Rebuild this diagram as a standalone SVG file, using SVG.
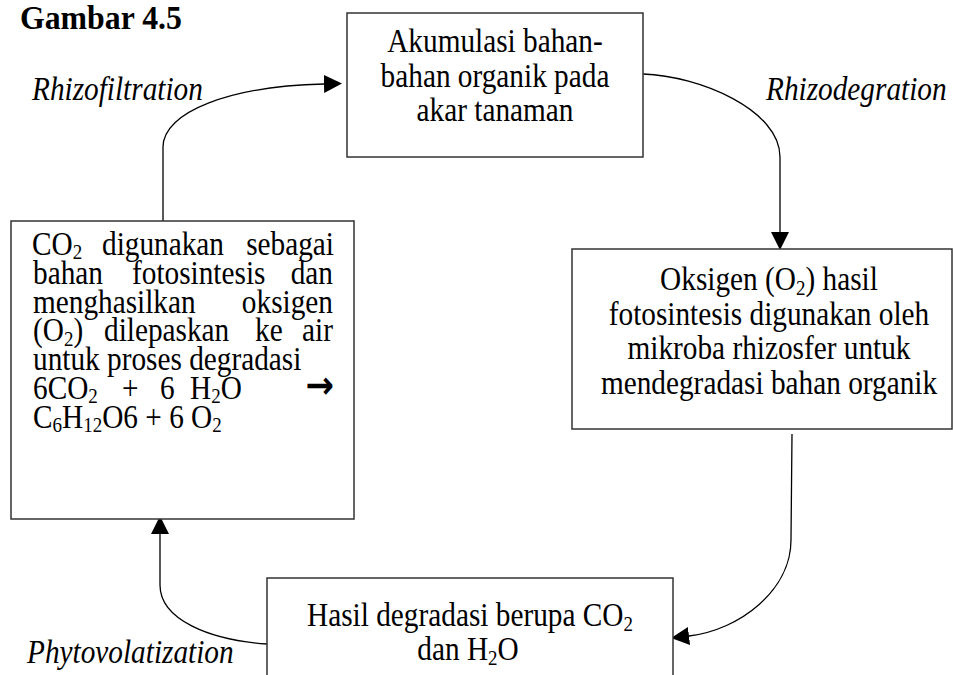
<svg xmlns="http://www.w3.org/2000/svg" width="953" height="675" viewBox="0 0 953 675">
<defs>
<style>
.t{font-family:"Liberation Serif","Times New Roman",serif;font-size:29.3px;fill:#000}
.c{text-anchor:middle}
.e{text-anchor:end}
.i{font-style:italic}
.b{font-weight:bold;font-size:31.8px}
.box{fill:#fff;stroke:#333;stroke-width:1.5}
.ln{fill:none;stroke:#000;stroke-width:1.3}
.s{font-size:19px}
.ar{font-family:"DejaVu Sans",sans-serif;font-weight:bold;font-size:34px}
</style>
<marker id="ah" markerUnits="userSpaceOnUse" markerWidth="18" markerHeight="18" viewBox="0 0 16 16" refX="0" refY="8" orient="auto">
<path d="M0,0 L16,8 L0,16 Z" fill="#000"/>
</marker>
</defs>
<rect width="953" height="675" fill="#fff"/>
<text class="t b" transform="translate(0,29) scale(1,1.08)" x="20" y="0">Gambar 4.5</text>
<g id="connectors">
<path class="ln" d="M163,221 L163,147 C163,112 230,86 324,84" marker-end="url(#ah)"/>
<path class="ln" d="M643,74 C700,76 780,110 780,157 L780,232" marker-end="url(#ah)"/>
<path class="ln" d="M792,434 L791,540 C791,590 740,630 689,636" marker-end="url(#ah)"/>
<path class="ln" d="M267,644 C210,640 160,620 160,585 L160,534" marker-end="url(#ah)"/>
<text class="t i" transform="translate(0,100) scale(1,1.15)" x="32" y="0">Rhizofiltration</text>
<text class="t i" transform="translate(0,100) scale(1,1.15)" x="766" y="0">Rhizodegration</text>
<text class="t i" transform="translate(0,663) scale(1,1.15)" x="27" y="0">Phytovolatization</text>
</g>
<g id="node-top">
<rect class="box" x="347" y="13" width="296" height="144"/>
<text class="t c" transform="translate(0,52) scale(1,1.15)" x="495" y="0">Akumulasi bahan-</text>
<text class="t c" transform="translate(0,86.5) scale(1,1.15)" x="495" y="0">bahan organik pada</text>
<text class="t c" transform="translate(0,121) scale(1,1.15)" x="495" y="0">akar tanaman</text>
</g>
<g id="node-right">
<rect class="box" x="572" y="249" width="380" height="180"/>
<text class="t c" transform="translate(0,290) scale(1,1.15)" x="769" y="0">Oksigen (O<tspan class="s" dy="4">2</tspan><tspan dy="-4">) hasil</tspan></text>
<text class="t c" transform="translate(0,324.5) scale(1,1.15)" x="769" y="0">fotosintesis digunakan oleh</text>
<text class="t c" transform="translate(0,359) scale(1,1.15)" x="769" y="0">mikroba rhizosfer untuk</text>
<text class="t c" transform="translate(0,393.5) scale(1,1.15)" x="769" y="0">mendegradasi bahan organik</text>
</g>
<g id="node-bottom">
<rect class="box" x="267" y="578" width="406" height="120"/>
<text class="t c" transform="translate(0,626) scale(1,1.15)" x="470" y="0">Hasil degradasi berupa CO<tspan class="s" dy="4">2</tspan></text>
<text class="t c" transform="translate(0,660) scale(1,1.15)" x="468" y="0">dan H<tspan class="s" dy="4">2</tspan><tspan dy="-4">O</tspan></text>
</g>
<g id="node-left">
<rect class="box" x="11" y="221" width="343" height="298"/>
<g transform="translate(0,255) scale(1,1.12)">
<text class="t" x="32" y="0">CO<tspan class="s" dy="4">2</tspan></text>
<text class="t" x="102" y="0">digunakan</text>
<text class="t e" x="334" y="0">sebagai</text>
</g>
<g transform="translate(0,283.8) scale(1,1.12)">
<text class="t" x="33" y="0">bahan</text>
<text class="t" x="132" y="0">fotosintesis</text>
<text class="t e" x="333" y="0">dan</text>
</g>
<g transform="translate(0,312.6) scale(1,1.12)">
<text class="t" x="33" y="0">menghasilkan</text>
<text class="t e" x="333" y="0">oksigen</text>
</g>
<g transform="translate(0,341.4) scale(1,1.12)">
<text class="t" x="33" y="0">(O<tspan class="s" dy="4">2</tspan><tspan dy="-4">)</tspan></text>
<text class="t" x="104" y="0">dilepaskan</text>
<text class="t" x="255" y="0">ke</text>
<text class="t e" x="333" y="0">air</text>
</g>
<g transform="translate(0,370.2) scale(1,1.12)">
<text class="t" x="33" y="0">untuk proses degradasi</text>
</g>
<g transform="translate(0,399) scale(1,1.12)">
<text class="t" x="33" y="0">6CO<tspan class="s" dy="4">2</tspan></text>
<text class="t" x="122" y="0">+</text>
<text class="t" x="160" y="0">6</text>
<text class="t" x="190" y="0">H<tspan class="s" dy="4">2</tspan><tspan dy="-4">O</tspan></text>
<text class="t e ar" x="334" y="-1">→</text>
</g>
<g transform="translate(0,427.8) scale(1,1.12)">
<text class="t" x="33" y="0">C<tspan class="s" dy="4">6</tspan><tspan dy="-4">H</tspan><tspan class="s" dy="4">12</tspan><tspan dy="-4">O6 + 6 O</tspan><tspan class="s" dy="4">2</tspan></text>
</g>
</g>
</svg>
